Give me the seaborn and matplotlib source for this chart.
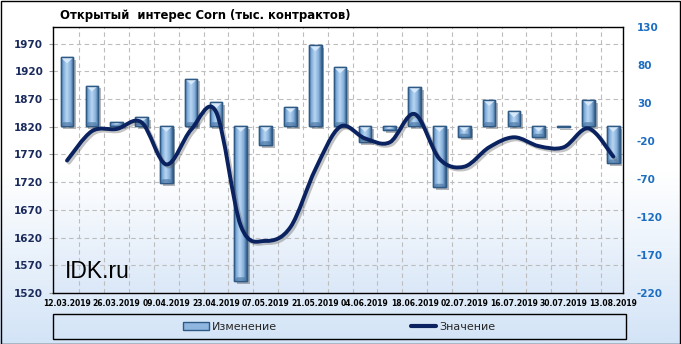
import numpy as np
import pandas as pd
import matplotlib
matplotlib.use('Agg')
import matplotlib.pyplot as plt
import seaborn as sns
from matplotlib.path import Path
from matplotlib.patches import PathPatch, Rectangle, Patch, Polygon
from matplotlib.lines import Line2D
from matplotlib.colors import LinearSegmentedColormap
import matplotlib.patheffects as pe

# ---------------- data ----------------
dates = ["12.03.2019", "19.03.2019", "26.03.2019", "02.04.2019", "09.04.2019",
         "16.04.2019", "23.04.2019", "30.04.2019", "07.05.2019", "14.05.2019",
         "21.05.2019", "28.05.2019", "04.06.2019", "11.06.2019", "18.06.2019",
         "25.06.2019", "02.07.2019", "09.07.2019", "16.07.2019", "23.07.2019",
         "30.07.2019", "06.08.2019", "13.08.2019"]
change = [90, 53, 5, 11, -75, 62, 31, -204, -25, 25, 106, 77,
          -21, -6, 51, -81, -15, 34, 19, -15, -2, 34, -49]
value = [1759, 1812, 1816, 1828, 1752, 1815, 1847, 1641, 1614, 1639, 1743, 1820,
         1799, 1792, 1843, 1762, 1748, 1783, 1801, 1785, 1783, 1817, 1766]
left_ticks = [1520, 1570, 1620, 1670, 1720, 1770, 1820, 1870, 1920, 1970]
right_ticks = [-220, -170, -120, -70, -20, 30, 80, 130]
xlabels = dates[::2]
title = "Открытый  интерес Corn (тыс. контрактов)"
legend_labels = ["Изменение", "Значение"]

# ---------------- style ----------------
sns.set_theme(style="white")
plt.rcParams['font.family'] = ['DejaVu Sans']

W, H = 681, 344
fig = plt.figure(figsize=(W / 100, H / 100), dpi=100)

NAVY = '#0a2260'
LEFT_COL = '#1b2a5c'
RIGHT_COL = '#1c6dc1'
BAR_EDGE = '#2f5a86'

# figure background gradient
bg = fig.add_axes([0, 0, 1, 1], zorder=-10)
grad = np.linspace(0, 1, 256).reshape(-1, 1)
cm_fig = LinearSegmentedColormap.from_list('f', [(0, '#d3e4f7'), (0.5, '#ffffff'), (1, '#ffffff')])
bg.imshow(grad, aspect='auto', cmap=cm_fig, extent=[0, 1, 0, 1], origin='lower')
bg.set_axis_off()

pos = [53 / W, 51 / H, 570 / W, 266 / H]
XLIM = (-0.564, 22.39)
YL = (1520, 2000)
YR = (-220, 130)

# ---------------- background axes: grid + left/x ticks ----------------
ax_bg = fig.add_axes(pos, zorder=1)
cm_plot = LinearSegmentedColormap.from_list('p', [(0, '#dbe8f8'), (0.45, '#ffffff'), (1, '#ffffff')])
ax_bg.imshow(grad, aspect='auto', cmap=cm_plot, extent=[XLIM[0], XLIM[1], YL[0], YL[1]],
             origin='lower', zorder=0)
ax_bg.set_xlim(*XLIM)
ax_bg.set_ylim(*YL)
ax_bg.set_yticks(left_ticks)
ax_bg.set_yticklabels([str(t) for t in left_ticks])
ax_bg.set_xticks(range(0, len(dates), 2))
ax_bg.set_xticklabels(xlabels)
ax_bg.set_xticks(np.arange(0.5, len(dates) - 1, 1), minor=True)
ax_bg.grid(False)
gkw = dict(color='#bdbdbd', linestyle=(0, (4, 3)), linewidth=0.8)
ax_bg.grid(True, which='major', axis='y', **gkw)
ax_bg.grid(True, which='minor', axis='x', **gkw)
ax_bg.tick_params(axis='y', which='major', left=True, length=3, color='#9a9a9a', width=0.8,
                  pad=4, labelsize=7.5, labelcolor=LEFT_COL)
for t in ax_bg.get_yticklabels():
    t.set_fontweight('bold')
ax_bg.tick_params(axis='x', which='both', length=0, pad=4, labelsize=5.5, labelcolor='black')
for t in ax_bg.get_xticklabels():
    t.set_fontweight('bold')
for s in ax_bg.spines.values():
    s.set_visible(False)

# ---------------- bars (right axis) ----------------
ax_bars = fig.add_axes(pos, zorder=2)
ax_bars.patch.set_visible(False)
df = pd.DataFrame({'date': dates, 'change': change})
sns.barplot(data=df, x='date', y='change', ax=ax_bars, width=0.51, color='#8fb6df',
            saturation=1, edgecolor=BAR_EDGE, linewidth=1.0, zorder=2)
ax_bars.set_xlim(*XLIM)
ax_bars.set_ylim(*YR)
cm_bar = LinearSegmentedColormap.from_list(
    'b', [(0, '#3f6c99'), (0.15, '#78a6d6'), (0.45, '#b9d6f2'), (0.75, '#86b0dc'), (1, '#35608c')])
hgrad = np.linspace(0, 1, 64).reshape(1, -1)
# vertical size of the bevel in data units of the bar axis (about 6 px)
bevel = 6.0 * (YR[1] - YR[0]) / 266.0
bars = list(ax_bars.patches)
for p in bars:
    x0, y0, w, h = p.get_x(), p.get_y(), p.get_width(), p.get_height()
    lo, hi = min(y0, y0 + h), max(y0, y0 + h)
    p.set_path_effects([pe.SimplePatchShadow(offset=(2, -2), shadow_rgbFace='#303030', alpha=0.35),
                        pe.Normal()])
    im = ax_bars.imshow(hgrad, cmap=cm_bar, extent=[x0, x0 + w, lo, hi],
                        aspect='auto', zorder=2.5, interpolation='bilinear')
    im.set_clip_path(p)
    b = min(bevel, (hi - lo) / 2)
    tri = Polygon([(x0, hi), (x0 + w, hi), (x0 + w / 2, hi - b)], closed=True,
                  facecolor='#dcedfc', edgecolor='none', alpha=0.9, zorder=2.7)
    ax_bars.add_patch(tri)
    tri.set_clip_path(p)
    bot = Polygon([(x0, lo), (x0 + w, lo), (x0 + w * 0.8, lo + b * 0.6), (x0 + w * 0.2, lo + b * 0.6)],
                  closed=True, facecolor='#4c78a5', edgecolor='none', alpha=0.7, zorder=2.7)
    ax_bars.add_patch(bot)
    bot.set_clip_path(p)
    ax_bars.add_patch(Rectangle((x0, y0), w, h, fill=False, edgecolor=BAR_EDGE, lw=1.0, zorder=3))
ax_bars.set_xlim(*XLIM)
ax_bars.set_ylim(*YR)
ax_bars.set_xticks([])
ax_bars.set_xlabel('')
ax_bars.set_ylabel('')
ax_bars.yaxis.tick_right()
ax_bars.set_yticks(right_ticks)
ax_bars.set_yticklabels([str(t) for t in right_ticks])
ax_bars.tick_params(axis='y', length=0, pad=10, labelsize=7.5, labelcolor=RIGHT_COL)
for t in ax_bars.get_yticklabels():
    t.set_fontweight('bold')
for s in ax_bars.spines.values():
    s.set_visible(False)

# ---------------- line (left axis) ----------------
ax_line = fig.add_axes(pos, zorder=3)
ax_line.patch.set_visible(False)
ax_line.set_xlim(*XLIM)
ax_line.set_ylim(*YL)
P = np.column_stack([np.arange(len(value)), value]).astype(float)
n = len(P)
verts = [P[0]]
codes = [Path.MOVETO]
for i in range(n - 1):
    p0 = P[i - 1] if i > 0 else P[i]
    p1, p2 = P[i], P[i + 1]
    p3 = P[i + 2] if i + 2 < n else P[i + 1]
    verts += [p1 + (p2 - p0) / 6.0, p2 - (p3 - p1) / 6.0, p2]
    codes += [Path.CURVE4] * 3
curve = PathPatch(Path(verts, codes), fill=False, edgecolor=NAVY, lw=2.8, capstyle='round',
                  joinstyle='round', zorder=4)
curve.set_path_effects([pe.SimpleLineShadow(offset=(1.5, -1.5), shadow_color='#555555', alpha=0.35),
                        pe.Normal()])
ax_line.add_patch(curve)
ax_line.set_xticks([])
ax_line.set_yticks([])
for s in ax_line.spines.values():
    s.set_visible(True)
    s.set_color('black')
    s.set_linewidth(1.0)
ax_line.text(0.021, 0.056, 'IDK.ru', transform=ax_line.transAxes, fontsize=16.5,
             family='Liberation Sans', color='black', va='baseline', ha='left', zorder=5)

# ---------------- title ----------------
fig.text(60 / W, 1 - 15 / H, title, fontsize=8.4, fontweight='bold', va='center', ha='left',
         color='black')

# ---------------- legend ----------------
fig.add_artist(Rectangle((53 / W, 5 / H), 573 / W, 25 / H, transform=fig.transFigure,
                         fill=False, edgecolor='black', lw=1.0))
handles = [Patch(facecolor='#8fb6df', edgecolor=BAR_EDGE, lw=1.0),
           Line2D([], [], color=NAVY, lw=3)]
fig.legend(handles=handles, labels=legend_labels, loc='center',
           bbox_to_anchor=(339.5 / W, 17.5 / H), ncol=2, frameon=False, fontsize=8,
           handlelength=2.3, handleheight=0.7, handletextpad=0.3, columnspacing=12)

# figure border
fig.add_artist(Rectangle((0.5 / W, 0.5 / H), 1 - 1.5 / W, 1 - 1.5 / H, transform=fig.transFigure,
                         fill=False, edgecolor='black', lw=1.0))

fig.savefig('out.png', dpi=100)
